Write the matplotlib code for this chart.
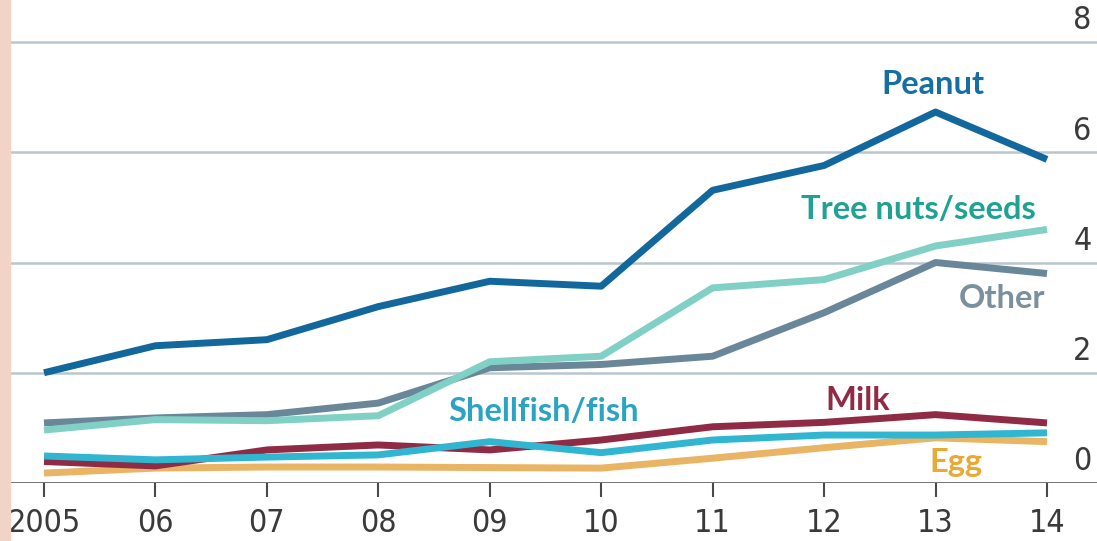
import numpy as np
import matplotlib.pyplot as plt
from matplotlib.patches import Rectangle

years = [2005, 2006, 2007, 2008, 2009, 2010, 2011, 2012, 2013, 2014]
year_labels = ["2005", "06", "07", "08", "09", "10", "11", "12", "13", "14"]

peanut = [2.0, 2.49, 2.6, 3.2, 3.66, 3.57, 5.31, 5.76, 6.73, 5.87]
tree_nuts = [0.96, 1.15, 1.13, 1.22, 2.2, 2.3, 3.54, 3.69, 4.3, 4.6]
other = [1.09, 1.18, 1.24, 1.45, 2.09, 2.15, 2.3, 3.09, 4.0, 3.8]
milk = [0.39, 0.31, 0.6, 0.69, 0.6, 0.78, 1.02, 1.1, 1.24, 1.09]
shellfish = [0.49, 0.42, 0.47, 0.51, 0.75, 0.55, 0.78, 0.87, 0.87, 0.91]
egg = [0.18, 0.27, 0.29, 0.29, 0.28, 0.27, 0.45, 0.64, 0.82, 0.75]

y_ticks = [0, 2, 4, 6, 8]

W, H = 1097, 541
fig = plt.figure(figsize=(W / 100, H / 100), dpi=100)
fig.patch.set_facecolor("white")

# pink strip on the left edge
fig.patches.append(Rectangle((0, 0), 10 / W, 1, transform=fig.transFigure,
                             color="#f3d3c8", zorder=0))

# axes: zero line at y=483 px, 8 at 42 px; 2005 at x=44, 2014 at x=1047
ax = fig.add_axes([10 / W, (H - 483) / H, (W - 10) / W, 483 / H])
px_year = (1047 - 44) / 9
px_unit = (483 - 42) / 8
ax.set_xlim(2005 - 34 / px_year, 2014 + (W - 1047) / px_year)
ax.set_ylim(0, 483 / px_unit)

for s in ax.spines.values():
    s.set_visible(False)

for v in y_ticks[1:]:
    ax.axhline(v, color="#b9c6cf", lw=1.8, zorder=1)
ax.axhline(0, color="#4a4a4a", lw=1.8, zorder=8)

lw = 5.0
ax.plot(years, egg, color="#e9b463", lw=lw, zorder=3, solid_capstyle="butt")
ax.plot(years, milk, color="#8f2b45", lw=lw, zorder=4, solid_capstyle="butt")
ax.plot(years, shellfish, color="#30b6d1", lw=lw, zorder=5, solid_capstyle="butt")
ax.plot(years, other, color="#6a8799", lw=lw, zorder=5, solid_capstyle="butt")
ax.plot(years, tree_nuts, color="#80d0c6", lw=lw, zorder=6, solid_capstyle="butt")
ax.plot(years, peanut, color="#12689c", lw=lw, zorder=7, solid_capstyle="butt")

tick_kw = dict(family="DejaVu Sans", fontstretch="condensed",
               fontweight="light", fontsize=23, color="#3a3a3a")
ax.set_xticks(years)
ax.set_xticklabels(year_labels, **tick_kw)
ax.tick_params(axis="x", length=10, width=1.5, color="#4a4a4a", pad=8)
ax.set_yticks([])

for v in y_ticks:
    ax.text(0.995, v + 0.1, str(v), transform=ax.get_yaxis_transform(),
            ha="right", va="bottom", **tick_kw)

lab_font = ["Lato", "DejaVu Sans"]
lab_kw = dict(fontsize=23.5, fontweight="bold", family=lab_font,
              ha="center", va="center")
ax.text(2012.98, 7.23, "Peanut", color="#156fa3", **lab_kw)
ax.text(2012.85, 4.97, "Tree nuts/seeds", color="#1fa193", **lab_kw)
ax.text(2013.6, 3.35, "Other", color="#7b909e", **lab_kw)
ax.text(2012.3, 1.5, "Milk", color="#8f2b45", **lab_kw)
ax.text(2009.48, 1.29, "Shellfish/fish", color="#2aa4c2", **lab_kw)
ax.text(2013.18, 0.38, "Egg", color="#e8a935", **lab_kw)

fig.savefig("out.png", dpi=100)
